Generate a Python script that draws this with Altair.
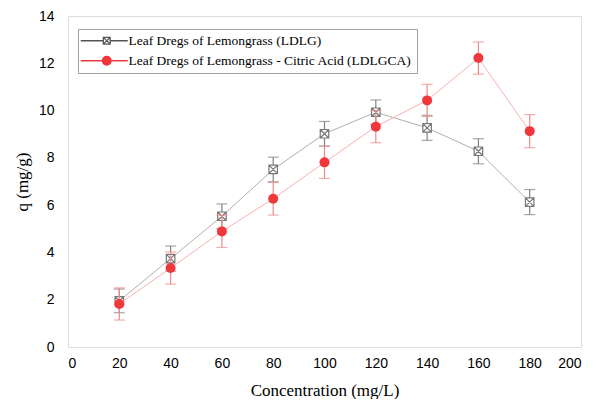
import altair as alt
import pandas as pd

conc = [20, 40, 60, 80, 100, 120, 140, 160, 180]
ldlg = [1.95, 3.74, 5.53, 7.51, 9.02, 9.93, 9.27, 8.28, 6.13]
ldlg_err = [0.5, 0.53, 0.52, 0.52, 0.52, 0.52, 0.53, 0.53, 0.53]
ldlgca = [1.82, 3.34, 4.89, 6.27, 7.81, 9.32, 10.43, 12.22, 9.13]
ldlgca_err = [0.68, 0.68, 0.68, 0.69, 0.68, 0.68, 0.68, 0.68, 0.7]

names = ["Leaf Dregs of Lemongrass (LDLG)",
         "Leaf Dregs of Lemongrass - Citric Acid (LDLGCA)"]

rows = []
for c, v, e in zip(conc, ldlg, ldlg_err):
    rows.append({"Concentration": c, "q": v, "lo": v - e, "hi": v + e, "Series": names[0]})
for c, v, e in zip(conc, ldlgca, ldlgca_err):
    rows.append({"Concentration": c, "q": v, "lo": v - e, "hi": v + e, "Series": names[1]})
df = pd.DataFrame(rows)

SQX = "M-1,-1H1V1H-1Z M-1,-1L1,1 M1,-1L-1,1"


def ring(cx, r):
    return (f"M{cx + r},0A{r},{r},0,1,1,{cx - r},0A{r},{r},0,1,1,{cx + r},0Z")


# legend symbols: line plus marker (4 px per unit at symbolSize 64)
LEG_SQ = "M-2.25,0H3.4 M5.1,0H9.5 M3.4,-0.85H5.1V0.85H3.4Z M3.4,-0.85L5.1,0.85 M5.1,-0.85L3.4,0.85"
LEG_CI = "M-2.25,0H9.5 " + " ".join(ring(4.25, r) for r in (1.1, 0.85, 0.6, 0.35, 0.12))

x = alt.X("Concentration:Q", scale=alt.Scale(domain=[0, 200], nice=False),
          axis=alt.Axis(values=list(range(0, 201, 20)), title="Concentration (mg/L)",
                        grid=False, domain=False, ticks=False, labelPadding=9,
                        titlePadding=12, labelFont="Liberation Sans", labelFontSize=14,
                        labelColor="black", titleFont="Liberation Serif",
                        titleFontSize=17, titleFontWeight="normal", titleColor="black"))
y = alt.Y("q:Q", scale=alt.Scale(domain=[0, 14], nice=False),
          axis=alt.Axis(values=list(range(0, 15, 2)), title="q (mg/g)",
                        grid=False, domain=False, ticks=False, labelPadding=14,
                        titlePadding=7, labelFont="Liberation Sans", labelFontSize=14,
                        labelColor="black", titleFont="Liberation Serif",
                        titleFontSize=17, titleFontWeight="normal", titleColor="black"))


def series_layers(name, line_color, bar_color, point_kwargs):
    d = alt.Chart(df).transform_filter(alt.datum.Series == name)
    line = d.mark_line(color=line_color, strokeWidth=1).encode(x=x, y=y)
    bar = d.mark_rule(color=bar_color, strokeWidth=1.2).encode(x=x, y="lo:Q", y2="hi:Q")
    cap_lo = d.mark_tick(color=bar_color, thickness=1.2, size=11, orient="horizontal").encode(x=x, y="lo:Q")
    cap_hi = d.mark_tick(color=bar_color, thickness=1.2, size=11, orient="horizontal").encode(x=x, y="hi:Q")
    pts = d.mark_point(**point_kwargs).encode(x=x, y=y)
    return [line, bar, cap_lo, cap_hi, pts]


gray = series_layers(names[0], "#b0b0b0", "#808080",
                     dict(shape=SQX, size=72, filled=False, stroke="#777777",
                          fill="white", fillOpacity=1, strokeWidth=1.2, opacity=1))
red = series_layers(names[1], "#f7b0b0", "#f08a8a",
                    dict(shape="circle", size=100, filled=True, color="#f0383c", opacity=1))

legend = alt.Chart(df).mark_point(opacity=0, strokeWidth=1.2).encode(
    x=x, y=y,
    shape=alt.Shape("Series:N", scale=alt.Scale(domain=names, range=[LEG_SQ, LEG_CI]),
                    legend=alt.Legend(title=None, orient="none", legendX=10, legendY=13,
                                      symbolSize=64, symbolStrokeWidth=1.3,
                                      labelFont="Liberation Serif", labelFontSize=13.5,
                                      labelColor="black", labelOffset=32,
                                      strokeColor="#a0a0a0", padding=5, rowPadding=5,
                                      fillColor="white", labelLimit=400)),
    stroke=alt.Stroke("Series:N", scale=alt.Scale(domain=names, range=["#555555", "#f0383c"])),
)

chart = alt.layer(*gray, *red, legend).properties(
    width=513, height=331,
    autosize=alt.AutoSizeParams(type="none"),
    padding={"left": 60, "top": 8, "right": 6, "bottom": 52},
).configure_view(stroke="black", strokeWidth=2).configure(background="white")

chart.save("out.html", embed_options={"renderer": "svg", "actions": False})
